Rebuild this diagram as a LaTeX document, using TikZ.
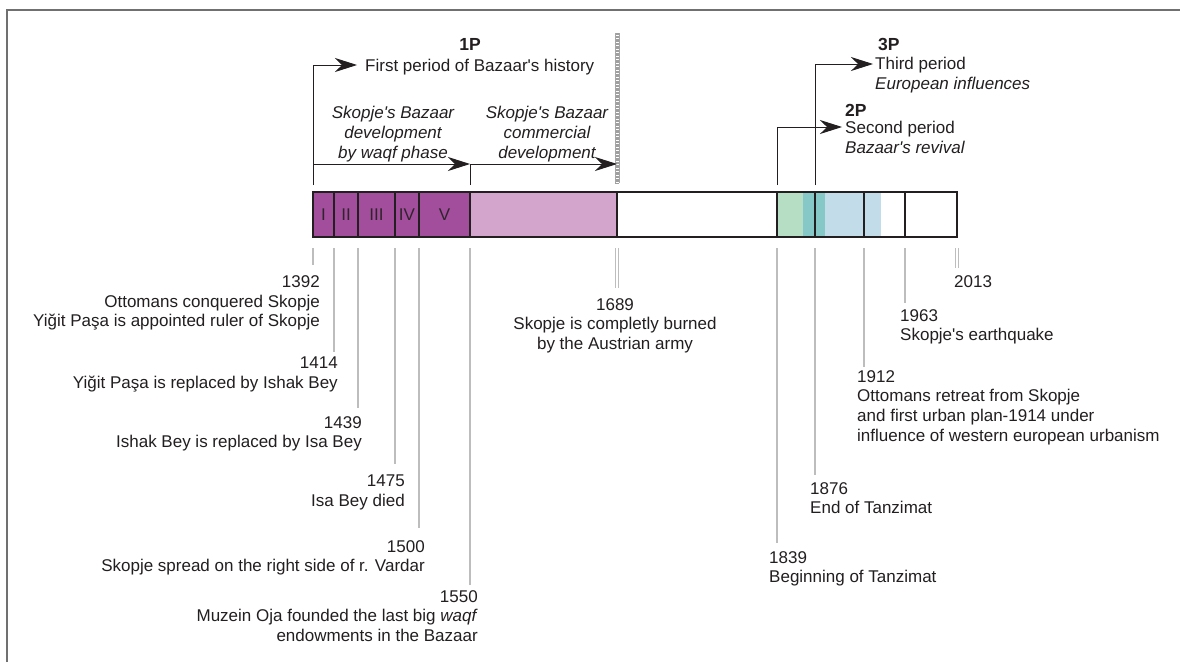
\documentclass[tikz,border=0pt]{standalone}
\usepackage{fontspec}
\setmainfont{Liberation Sans}
\usetikzlibrary{arrows.meta}
\newcommand\ap{\textquotesingle}
\definecolor{txt}{HTML}{231F20}
\definecolor{purp}{HTML}{A24E9C}
\definecolor{lpurp}{HTML}{D4A5CC}
\definecolor{lgreen}{HTML}{B5DEC5}
\definecolor{teal2}{HTML}{86C7C8}
\definecolor{lblue}{HTML}{C2DCEA}
\definecolor{tickc}{HTML}{BDBDBD}
\definecolor{framec}{HTML}{707070}
\tikzset{
  lbl/.style={inner sep=0pt, text=txt, font=\fontsize{17}{19.7}\selectfont},
  arr/.style={draw=txt, line width=0.9pt, -{Stealth[length=22pt,width=14pt,inset=7pt]}},
  plain/.style={draw=txt, line width=0.9pt},
  tick/.style={draw=tickc, line width=1.3pt},
  border/.style={draw=txt, line width=2.4pt},
  roman/.style={inner sep=0pt, text=txt!90!purp, font=\fontsize{17}{19.7}\selectfont}
}
\begin{document}
\begin{tikzpicture}[x=1pt,y=-1pt]
\useasboundingbox (0,0) rectangle (1180,662);
\fill[white] (0,0) rectangle (1180,662);
% frame
\draw[framec, line width=2pt] (7,662) -- (7,10) -- (1180,10);

% bar fills
\fill[purp] (313,192) rectangle (470,237);
\fill[lpurp] (470,192) rectangle (617,237);
\fill[lgreen] (777,192) rectangle (803,237);
\fill[teal2] (803,192) rectangle (825,237);
\fill[lblue] (825,192) rectangle (881,237);

% bar borders
\draw[border] (313,192) rectangle (957,237);
\foreach \x in {334,358,395,419,470,617,777,815,864,905}
  \draw[border, line width=2pt] (\x,192) -- (\x,237);

% roman numerals
\node[roman] (r1) at (323.5,214.5) {I};
\node[roman] (r2) at (346,214.5) {II};
\node[roman] (r3) at (376.5,214.5) {III};
\node[roman] (r4) at (407,214.5) {IV};
\node[roman] (r5) at (444.5,214.5) {V};

% hatched marker
\draw[gray!75, line width=3.8pt, dash pattern=on 0.7pt off 0.7pt] (617,33) -- (617,183);
\draw[gray!70, line width=0.5pt] (615.1,33) -- (615.1,183) (618.9,33) -- (618.9,183);

% top coordinates
\coordinate (s1) at (313,185);
\coordinate (e1) at (357,65);
\coordinate (pa) at (313,164);
\coordinate (pb) at (470,164);
\coordinate (pbt) at (470,185);
\coordinate (pc) at (617,164);
\coordinate (s2) at (777,185);
\coordinate (e2) at (842,127);
\coordinate (s3) at (815,185);
\coordinate (e3) at (873,64);

\draw[arr] (s1) |- (e1);
\draw[arr] (pa) -- (pb);
\draw[plain] (pb) -- (pbt);
\draw[arr] (pb) -- (pc);
\draw[arr] (s2) |- (e2);
\draw[arr] (s3) |- (e3);

% top labels
\node[lbl, anchor=base, font=\fontsize{17.5}{19.7}\selectfont\bfseries] (p1) at (470,50) {1P};
\node[lbl, anchor=base west] (p1t) at (365,71) {First period of Bazaar\ap s history};
\node[lbl, anchor=north, align=center, font=\fontsize{17}{20}\selectfont\itshape] (ph1) at (393,106) {Skopje\ap s Bazaar\\development\\by waqf phase};
\node[lbl, anchor=north, align=center, font=\fontsize{17}{20}\selectfont\itshape] (ph2) at (547,106) {Skopje\ap s Bazaar\\commercial\\development};
\node[lbl, anchor=base west, font=\fontsize{17.5}{19.7}\selectfont\bfseries] (p3) at (878,50) {3P};
\node[lbl, anchor=north west, align=left] (p3t) at (875,57) {Third period\\\textit{European influences}};
\node[lbl, anchor=base west, font=\fontsize{17.5}{19.7}\selectfont\bfseries] (p2) at (845,116) {2P};
\node[lbl, anchor=north west, align=left] (p2t) at (845,121) {Second period\\\textit{Bazaar\ap s revival}};

% ticks below
\draw[tick] (313,248) -- (313,265);
\draw[tick] (334,248) -- (334,352);
\draw[tick] (358,248) -- (358,408);
\draw[tick] (395,248) -- (395,464);
\draw[tick] (419,248) -- (419,528);
\draw[tick] (470,248) -- (470,585);
\draw[tick, line width=1pt] (615.5,248) -- (615.5,288) (618.5,248) -- (618.5,288);
\draw[tick] (777,248) -- (777,543);
\draw[tick] (815,248) -- (815,475);
\draw[tick] (864,248) -- (864,367);
\draw[tick] (905,248) -- (905,303);
\draw[tick, line width=1pt] (955.5,248) -- (955.5,268) (958.5,248) -- (958.5,268);

% bottom labels
\node[lbl, anchor=north east, align=right] (l1392) at (320,275.5) {1392\\Ottomans conquered Skopje\\Yiğit Paşa is appointed ruler of Skopje};
\node[lbl, anchor=north east, align=right] (l1414) at (338,357) {1414\\Yiğit Paşa is replaced by Ishak Bey};
\node[lbl, anchor=north east, align=right] (l1439) at (362,416) {1439\\Ishak Bey is replaced by Isa Bey};
\node[lbl, anchor=north east, align=right] (l1475) at (405,475) {1475\\Isa Bey died};
\node[lbl, anchor=north east, align=right] (l1500) at (425,540) {1500\\Skopje spread on the right side of r. Vardar};
\node[lbl, anchor=north east, align=right] (l1550) at (478,590) {1550\\Muzein Oja founded the last big \textit{waqf}\\endowments in the Bazaar};
\node[lbl, anchor=north, align=center] (l1689) at (615,298) {1689\\Skopje is completly burned\\by the Austrian army};
\node[lbl, anchor=north west, align=left] (l1839) at (769,551) {1839\\Beginning of Tanzimat};
\node[lbl, anchor=north west, align=left] (l1876) at (810,482) {1876\\End of Tanzimat};
\node[lbl, anchor=north west, align=left] (l1912) at (857,370) {1912\\Ottomans retreat from Skopje\\and first urban plan-1914 under\\influence of western european urbanism};
\node[lbl, anchor=north west, align=left] (l1963) at (900,309) {1963\\Skopje\ap s earthquake};
\node[lbl, anchor=north west, align=left] (l2013) at (954,275) {2013};
\end{tikzpicture}
\end{document}
